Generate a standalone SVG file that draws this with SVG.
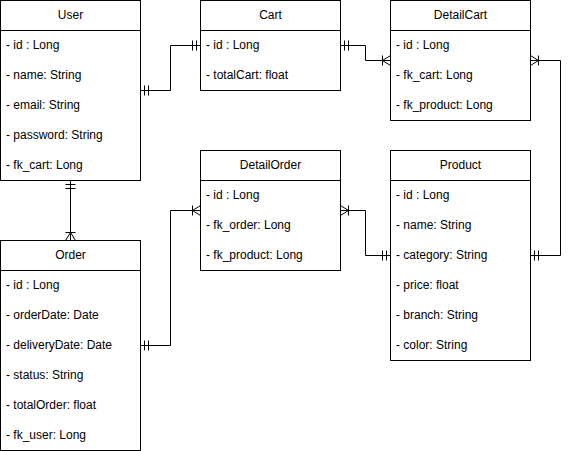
<svg xmlns="http://www.w3.org/2000/svg" width="570" height="451" viewBox="0 0 570 451">
<style>
.box{fill:#fff;stroke:#000;stroke-width:1}
.sep{stroke:#000;stroke-width:1}
.t{font-family:"Liberation Sans",Arial,sans-serif;font-size:12px;fill:#000}
.h{text-anchor:middle}
.c{fill:none;stroke:#000;stroke-width:1}
</style>
<defs>
<marker id="one" viewBox="-12 -6 13 12" refX="0" refY="0" markerWidth="13" markerHeight="12" markerUnits="userSpaceOnUse" orient="auto-start-reverse">
<path d="M-4,-5V5M-8,-5V5" fill="none" stroke="#000" stroke-width="1"/>
</marker>
<marker id="many" viewBox="-12 -6 13 12" refX="0" refY="0" markerWidth="13" markerHeight="12" markerUnits="userSpaceOnUse" orient="auto-start-reverse">
<path d="M-8,-5V5M0,-5L-8,0L0,5" fill="none" stroke="#000" stroke-width="1"/>
</marker>
</defs>
<g id="connectors">
<path class="c" d="M140.5,90.5H170.5V45.5H200.5" marker-start="url(#one)" marker-end="url(#one)"/>
<path class="c" d="M340.5,45.5H365.5V60.5H390.5" marker-start="url(#one)" marker-end="url(#many)"/>
<path class="c" d="M530.5,60.5H560.5V255.5H530.5" marker-start="url(#many)" marker-end="url(#one)"/>
<path class="c" d="M70.5,180.5V240.5" marker-start="url(#one)" marker-end="url(#many)"/>
<path class="c" d="M140.5,345.5H170.5V210.5H200.5" marker-start="url(#one)" marker-end="url(#many)"/>
<path class="c" d="M340.5,210.5H365.5V255.5H390.5" marker-start="url(#many)" marker-end="url(#one)"/>
</g>
<g id="User">
<rect class="box" x="0.5" y="0.5" width="140" height="180"/>
<line class="sep" x1="0.5" y1="30.5" x2="140.5" y2="30.5"/>
<text class="t h" x="70.5" y="18.5">User</text>
<text class="t" x="6" y="48.5">- id : Long</text>
<text class="t" x="6" y="78.5">- name: String</text>
<text class="t" x="6" y="108.5">- email: String</text>
<text class="t" x="6" y="138.5">- password: String</text>
<text class="t" x="6" y="168.5">- fk_cart: Long</text>
</g>
<g id="Cart">
<rect class="box" x="200.5" y="0.5" width="140" height="90"/>
<line class="sep" x1="200.5" y1="30.5" x2="340.5" y2="30.5"/>
<text class="t h" x="270.5" y="18.5">Cart</text>
<text class="t" x="206" y="48.5">- id : Long</text>
<text class="t" x="206" y="78.5">- totalCart: float</text>
</g>
<g id="DetailCart">
<rect class="box" x="390.5" y="0.5" width="140" height="120"/>
<line class="sep" x1="390.5" y1="30.5" x2="530.5" y2="30.5"/>
<text class="t h" x="460.5" y="18.5">DetailCart</text>
<text class="t" x="396" y="48.5">- id : Long</text>
<text class="t" x="396" y="78.5">- fk_cart: Long</text>
<text class="t" x="396" y="108.5">- fk_product: Long</text>
</g>
<g id="DetailOrder">
<rect class="box" x="200.5" y="150.5" width="140" height="120"/>
<line class="sep" x1="200.5" y1="180.5" x2="340.5" y2="180.5"/>
<text class="t h" x="270.5" y="168.5">DetailOrder</text>
<text class="t" x="206" y="198.5">- id : Long</text>
<text class="t" x="206" y="228.5">- fk_order: Long</text>
<text class="t" x="206" y="258.5">- fk_product: Long</text>
</g>
<g id="Product">
<rect class="box" x="390.5" y="150.5" width="140" height="210"/>
<line class="sep" x1="390.5" y1="180.5" x2="530.5" y2="180.5"/>
<text class="t h" x="460.5" y="168.5">Product</text>
<text class="t" x="396" y="198.5">- id : Long</text>
<text class="t" x="396" y="228.5">- name: String</text>
<text class="t" x="396" y="258.5">- category: String</text>
<text class="t" x="396" y="288.5">- price: float</text>
<text class="t" x="396" y="318.5">- branch: String</text>
<text class="t" x="396" y="348.5">- color: String</text>
</g>
<g id="Order">
<rect class="box" x="0.5" y="240.5" width="140" height="210"/>
<line class="sep" x1="0.5" y1="270.5" x2="140.5" y2="270.5"/>
<text class="t h" x="70.5" y="258.5">Order</text>
<text class="t" x="6" y="288.5">- id : Long</text>
<text class="t" x="6" y="318.5">- orderDate: Date</text>
<text class="t" x="6" y="348.5">- deliveryDate: Date</text>
<text class="t" x="6" y="378.5">- status: String</text>
<text class="t" x="6" y="408.5">- totalOrder: float</text>
<text class="t" x="6" y="438.5">- fk_user: Long</text>
</g>
</svg>
